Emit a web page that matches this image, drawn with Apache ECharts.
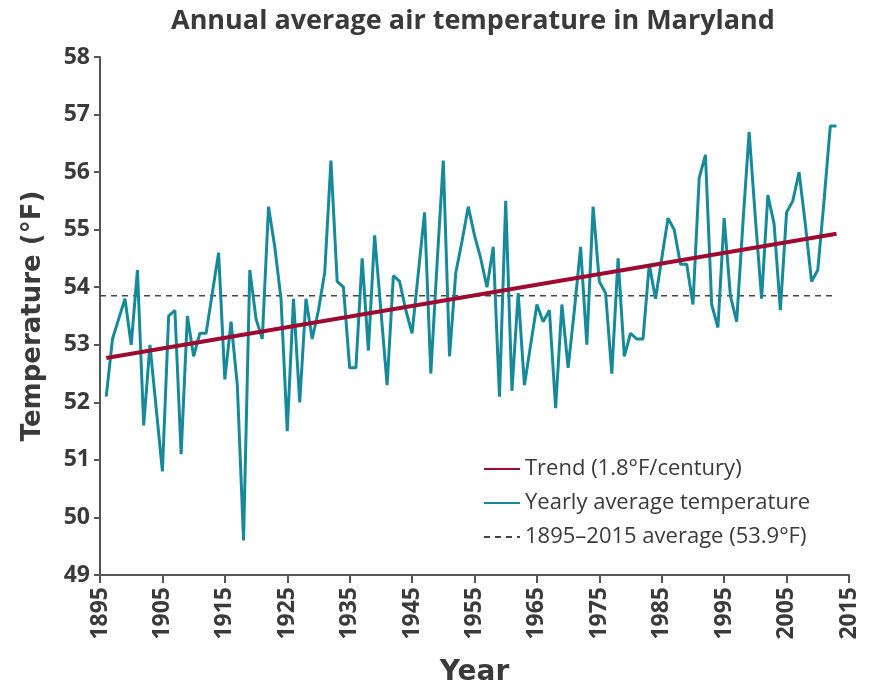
<!DOCTYPE html>
<html>
<head>
<meta charset="utf-8">
<title>Annual average air temperature in Maryland</title>
<script src="https://cdn.jsdelivr.net/npm/echarts@6/dist/echarts.min.js"></script>
<style>
  html, body { margin: 0; padding: 0; background: #fff; }
  #chart { width: 874px; height: 692px; }
</style>
</head>
<body>
<div id="chart"></div>
<script>
// yearly values (first year 1896)
var firstYear = 1896;
var temps = [
  52.1, 53.1, 53.45, 53.8, 53.0, 54.3, 51.6, 53.0, 51.9, 50.8,
  53.5, 53.6, 51.1, 53.5, 52.8, 53.2, 53.2, 53.9, 54.6, 52.4,
  53.4, 52.3, 49.6, 54.3, 53.45, 53.1, 55.4, 54.7, 53.8, 51.5,
  53.8, 52.0, 53.8, 53.1, 53.6, 54.25, 56.2, 54.1, 54.0, 52.6,
  52.6, 54.5, 52.9, 54.9, 53.6, 52.3, 54.2, 54.1, 53.6, 53.2,
  54.25, 55.3, 52.5, 54.4, 56.2, 52.8, 54.25, 54.8, 55.4, 54.9,
  54.5, 54.0, 54.7, 52.1, 55.5, 52.2, 53.9, 52.3, 53.0, 53.7,
  53.4, 53.6, 51.9, 53.7, 52.6, 53.6, 54.7, 53.0, 55.4, 54.1,
  53.9, 52.5, 54.5, 52.8, 53.2, 53.1, 53.1, 54.4, 53.8, 54.5,
  55.2, 55.0, 54.4, 54.4, 53.7, 55.9, 56.3, 53.7, 53.3, 55.2,
  53.85, 53.4, 55.1, 56.7, 55.2, 53.8, 55.6, 55.1, 53.6, 55.3,
  55.5, 56.0, 55.1, 54.1, 54.3, 55.5, 56.8, 56.8
];
// trend end points (1.8°F/century)
var trendYears = [1896, 2013];
var trendValues = [52.77, 54.93];
// long-term average line
var avgYears = [1895, 2013];
var avgValue = 53.85;

var yTicks = { min: 49, max: 58, step: 1 };
var xTicks = { min: 1895, max: 2015, step: 10 };

var yearly = temps.map(function (v, i) { return [firstYear + i, v]; });
var trend = trendYears.map(function (y, i) { return [y, trendValues[i]]; });
var avg = avgYears.map(function (y) { return [y, avgValue]; });

var font = 'Open Sans';
var tickFont = '"Liberation Sans Narrow", "Open Sans"';
var nameFont = '"DejaVu Sans"';
var ink = '#3a3a3a';

var chart = echarts.init(document.getElementById('chart'));
var option = {
  backgroundColor: '#fff',
  animation: false,
  title: {
    text: 'Annual average air temperature in Maryland',
    left: 166,
    top: 3,
    textStyle: { fontFamily: font, fontSize: 27, fontWeight: 'bold', color: ink }
  },
  grid: { left: 100, right: 25, top: 57, bottom: 116 },
  legend: {
    orient: 'vertical',
    left: 478,
    top: 453,
    itemWidth: 36,
    itemHeight: 14,
    itemGap: 12,
    itemStyle: { opacity: 0 },
    data: ['Trend (1.8°F/century)', 'Yearly average temperature', '1895–2015 average (53.9°F)'],
    textStyle: { fontFamily: font, fontSize: 22, color: ink }
  },
  xAxis: {
    type: 'value',
    min: xTicks.min,
    max: xTicks.max,
    interval: xTicks.step,
    name: 'Year',
    nameLocation: 'middle',
    nameGap: 84,
    nameTextStyle: { fontFamily: nameFont, fontSize: 28, fontWeight: 'bold', color: ink },
    axisLine: { lineStyle: { color: '#555', width: 2 } },
    axisTick: { length: 8, lineStyle: { color: '#555', width: 2 } },
    axisLabel: {
      rotate: 90,
      margin: 12,
      fontFamily: tickFont,
      fontSize: 23,
      fontWeight: 'bold',
      color: ink,
      formatter: function (v) { return String(v); }
    },
    splitLine: { show: false }
  },
  yAxis: {
    type: 'value',
    min: yTicks.min,
    max: yTicks.max,
    interval: yTicks.step,
    name: 'Temperature (°F)',
    nameLocation: 'middle',
    nameGap: 54,
    nameTextStyle: { fontFamily: nameFont, fontSize: 26, fontWeight: 'bold', color: ink },
    axisLine: { show: true, lineStyle: { color: '#555', width: 2 } },
    axisTick: { show: true, length: 6, lineStyle: { color: '#555', width: 2 } },
    axisLabel: { fontFamily: tickFont, fontSize: 23, fontWeight: 'bold', color: ink, margin: 10 },
    splitLine: { show: false }
  },
  series: [
    {
      name: '1895–2015 average (53.9°F)',
      type: 'line',
      data: avg,
      symbol: 'none',
      lineStyle: { color: '#444', width: 1.5, type: [6, 5] },
      itemStyle: { color: '#444' },
      z: 1
    },
    {
      name: 'Yearly average temperature',
      type: 'line',
      data: yearly,
      symbol: 'none',
      lineStyle: { color: '#16899b', width: 3 },
      itemStyle: { color: '#16899b' },
      z: 2
    },
    {
      name: 'Trend (1.8°F/century)',
      type: 'line',
      data: trend,
      symbol: 'none',
      lineStyle: { color: '#9e0b30', width: 4 },
      itemStyle: { color: '#9e0b30' },
      z: 3
    }
  ]
};
chart.setOption(option);
</script>
</body>
</html>
